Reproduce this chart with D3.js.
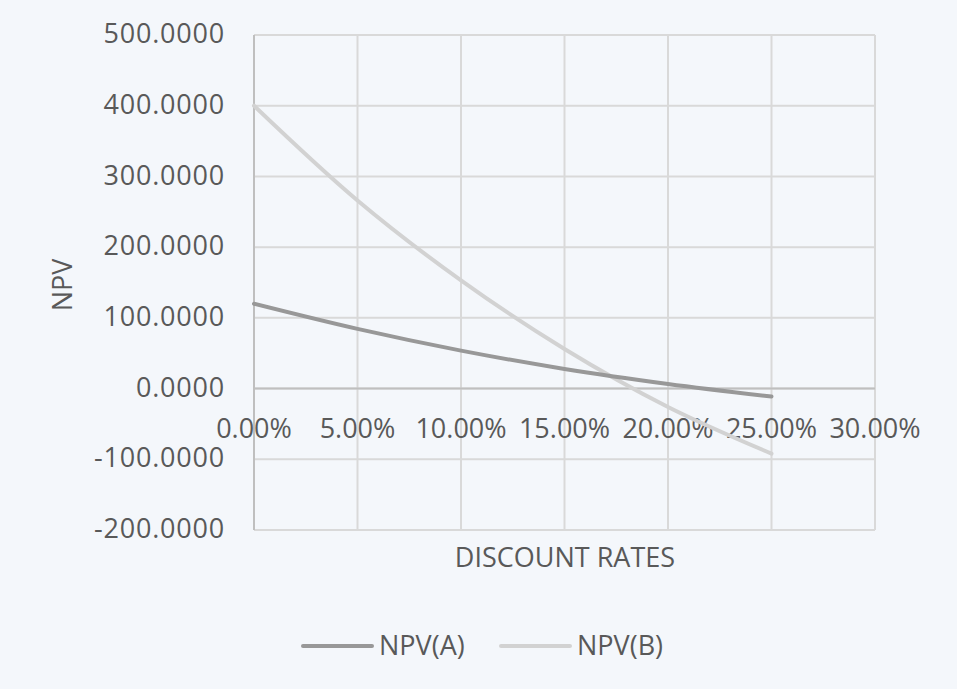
<!DOCTYPE html>
<html lang="en">
  <head>
    <meta charset="UTF-8" />
    <title>NPV profile</title>
    <script src="https://d3js.org/d3.v7.min.js"></script>
    <style>
      body { margin: 0; background: #f4f7fb; }
      text { font-family: "Open Sans", "Noto Sans", sans-serif; fill: #595959; }
    </style>
  </head>
  <body>
    <script>
      const rates = [0, 0.05, 0.10, 0.15, 0.20, 0.25];
      const npvA = [120, 84.4, 53.7, 27.8, 6.6, -11.3];
      const npvB = [400, 266, 153, 56, -26, -92];
      const xTicks = [0, 0.05, 0.10, 0.15, 0.20, 0.25, 0.30];
      const yTicks = [-200, -100, 0, 100, 200, 300, 400, 500];
      const seriesNames = ["NPV(A)", "NPV(B)"];
      const seriesColors = ["#989898", "#d2d2d2"];

      const width = 957, height = 689;
      const plotLeft = 254, plotRight = 875, plotTop = 35, plotBottom = 530;
      const fs = 27;

      const svg = d3.select("body").append("svg")
        .attr("width", width).attr("height", height);

      svg.append("rect").attr("width", width).attr("height", height).attr("fill", "#f4f7fb");

      const x = d3.scaleLinear().domain([0, 0.30]).range([plotLeft, plotRight]);
      const y = d3.scaleLinear().domain([-200, 500]).range([plotBottom, plotTop]);

      // grid
      svg.append("g").selectAll("line").data(xTicks).enter().append("line")
        .attr("x1", d => x(d)).attr("x2", d => x(d))
        .attr("y1", plotTop).attr("y2", plotBottom)
        .attr("stroke", "#d9d9d9").attr("stroke-width", 2);
      svg.append("g").selectAll("line").data(yTicks).enter().append("line")
        .attr("x1", plotLeft).attr("x2", plotRight)
        .attr("y1", d => y(d)).attr("y2", d => y(d))
        .attr("stroke", "#d9d9d9").attr("stroke-width", 2);

      // axis lines
      svg.append("line").attr("x1", plotLeft).attr("x2", plotRight)
        .attr("y1", y(0)).attr("y2", y(0))
        .attr("stroke", "#bfbfbf").attr("stroke-width", 2);
      svg.append("line").attr("x1", plotLeft).attr("x2", plotLeft)
        .attr("y1", plotTop).attr("y2", plotBottom)
        .attr("stroke", "#bfbfbf").attr("stroke-width", 2);

      // tick labels (Excel style hyphen minus)
      svg.append("g").selectAll("text").data(yTicks).enter().append("text")
        .attr("x", 225).attr("y", d => y(d))
        .attr("dy", "0.3em").attr("text-anchor", "end")
        .attr("font-size", fs).attr("letter-spacing", 0.8)
        .text(d => d3.format(".4f")(d).replace("\u2212", "-"));
      svg.append("g").selectAll("text").data(xTicks).enter().append("text")
        .attr("x", d => x(d)).attr("y", y(0) + 49)
        .attr("text-anchor", "middle")
        .attr("font-size", fs)
        .text(d => d3.format(".2%")(d));

      // axis titles
      svg.append("text").attr("x", 565).attr("y", 567)
        .attr("text-anchor", "middle").attr("font-size", fs)
        .text("DISCOUNT RATES");
      svg.append("text")
        .attr("transform", "translate(72,285) rotate(-90)")
        .attr("text-anchor", "middle").attr("font-size", fs)
        .text("NPV");

      // lines
      const line = d3.line()
        .x(d => x(d[0])).y(d => y(d[1]))
        .curve(d3.curveCatmullRom.alpha(0.5));

      [npvB, npvA].forEach((vals, k) => {
        const i = 1 - k;
        svg.append("path")
          .datum(rates.map((r, j) => [r, vals[j]]))
          .attr("fill", "none")
          .attr("stroke", seriesColors[i])
          .attr("stroke-width", 4)
          .attr("stroke-linecap", "round")
          .attr("d", line);
      });

      // legend
      const legX = [303, 501];
      seriesNames.forEach((name, i) => {
        svg.append("line")
          .attr("x1", legX[i]).attr("x2", legX[i] + 69)
          .attr("y1", 646).attr("y2", 646)
          .attr("stroke", seriesColors[i]).attr("stroke-width", 4)
          .attr("stroke-linecap", "round");
        svg.append("text")
          .attr("x", legX[i] + 76).attr("y", 646)
          .attr("dy", "0.35em").attr("font-size", fs)
          .text(name);
      });
    </script>
  </body>
</html>
